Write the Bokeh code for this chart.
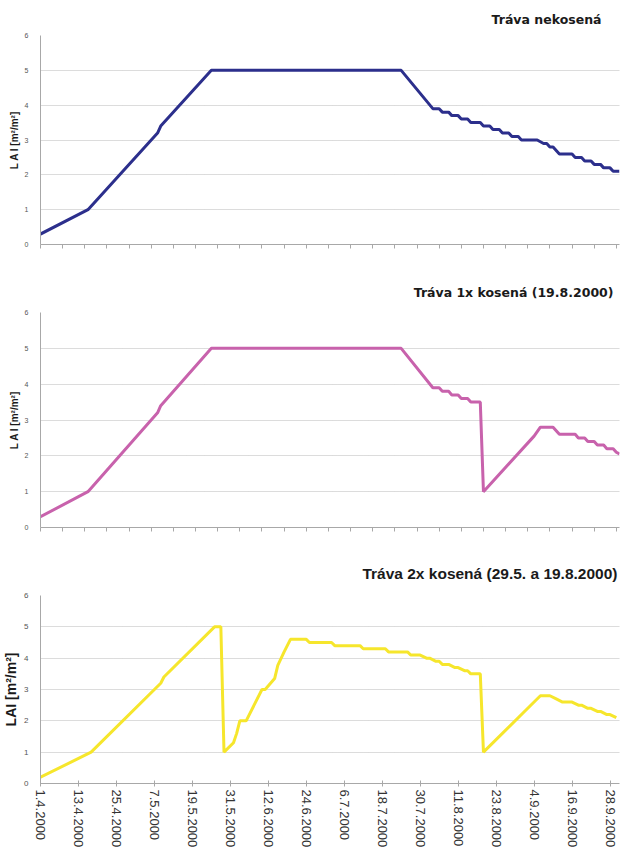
import pandas as pd
from bokeh.plotting import figure
from bokeh.layouts import column
from bokeh.models import FixedTicker, Range1d
from bokeh.embed import file_html
from bokeh.resources import INLINE

START = pd.Timestamp("2000-04-01")
END_DAY = 183

tick_labels = ["1.4.2000", "13.4.2000", "25.4.2000", "7.5.2000", "19.5.2000",
               "31.5.2000", "12.6.2000", "24.6.2000", "6.7.2000", "18.7.2000",
               "30.7.2000", "11.8.2000", "23.8.2000", "4.9.2000", "16.9.2000",
               "28.9.2000"]

titles = ["Tráva nekosená", "Tráva 1x kosená (19.8.2000)",
          "Tráva 2x kosená (29.5. a 19.8.2000)"]

top_day = [0, 15, 37, 38, 54, 114, 124, 126, 127, 129, 130, 132, 133, 135, 136,
           139, 140, 142, 143, 145, 146, 148, 149, 151, 152, 157, 159, 160, 161,
           162, 164, 168, 169, 171, 172, 174, 175, 177, 178, 180, 181, 183]
top_lai = [0.3, 1.0, 3.2, 3.4, 5.0, 5.0, 3.9, 3.9, 3.8, 3.8, 3.7, 3.7, 3.6, 3.6,
           3.5, 3.5, 3.4, 3.4, 3.3, 3.3, 3.2, 3.2, 3.1, 3.1, 3.0, 3.0, 2.9, 2.9,
           2.8, 2.8, 2.6, 2.6, 2.5, 2.5, 2.4, 2.4, 2.3, 2.3, 2.2, 2.2, 2.1, 2.1]

mid_day = [0, 15, 37, 38, 54, 114, 124, 126, 127, 129, 130, 132, 133, 135, 136,
           139, 140, 156, 158, 162, 163, 164, 169, 170, 172, 173, 175, 176, 178,
           179, 181, 182, 183]
mid_lai = [0.3, 1.0, 3.2, 3.4, 5.0, 5.0, 3.9, 3.9, 3.8, 3.8, 3.7, 3.7, 3.6, 3.6,
           3.5, 3.5, 1.0, 2.55, 2.8, 2.8, 2.7, 2.6, 2.6, 2.5, 2.5, 2.4, 2.4, 2.3,
           2.3, 2.2, 2.2, 2.1, 2.05]

bot_day = [0, 16, 38, 39, 55, 57, 58, 61, 62, 63, 65, 70, 71, 74, 75, 77, 79, 84,
           85, 92, 93, 101, 102, 109, 110, 116, 117, 120, 122, 123, 125, 126, 127,
           129, 131, 132, 134, 135, 136, 139, 140, 156, 158, 161, 163, 165, 168,
           170, 171, 173, 174, 176, 177, 179, 180, 182]
bot_lai = [0.2, 1.0, 3.2, 3.4, 5.0, 5.0, 1.0, 1.3, 1.6, 2.0, 2.0, 3.0, 3.0, 3.35,
           3.77, 4.2, 4.6, 4.6, 4.5, 4.5, 4.4, 4.4, 4.3, 4.3, 4.2, 4.2, 4.1, 4.1,
           4.0, 4.0, 3.9, 3.9, 3.8, 3.8, 3.7, 3.7, 3.6, 3.6, 3.5, 3.5, 1.0, 2.6,
           2.8, 2.8, 2.7, 2.6, 2.6, 2.5, 2.5, 2.4, 2.4, 2.3, 2.3, 2.2, 2.2, 2.1]

colors = ["#2c2f8c", "#c862ac", "#f6e62c"]
FONT = "Liberation Sans"

tick_days = [int((pd.to_datetime(t, format="%d.%m.%Y") - START).days) for t in tick_labels]
week_days = list(range(0, END_DAY + 1, 7))


def base_fig(height, top, bottom, right, title, tfont, tsize, tstand, toff,
             ylabel, ysize, ytick_size):
    p = figure(width=630, height=height, x_range=Range1d(0, END_DAY),
               y_range=Range1d(0, 6), output_backend="svg", toolbar_location=None,
               min_border_left=39, min_border_right=right, min_border_top=top,
               min_border_bottom=bottom, background_fill_color="white",
               border_fill_color="white")
    p.outline_line_color = None
    p.title.text = title
    p.title.align = "right"
    p.title.text_font = tfont
    p.title.text_font_style = "bold"
    p.title.text_font_size = tsize
    p.title.text_color = "#1a1a1a"
    p.title.standoff = tstand
    p.title.offset = toff
    p.xgrid.grid_line_color = None
    p.ygrid.grid_line_color = "#b8b8b8"
    p.ygrid.grid_line_dash = "1 1"
    p.yaxis.ticker = FixedTicker(ticks=[0, 1, 2, 3, 4, 5, 6])
    p.yaxis.minor_tick_line_color = None
    p.yaxis.major_tick_line_color = None
    p.yaxis.axis_line_color = "#a8a8a8"
    p.yaxis.major_label_text_font = FONT
    p.yaxis.major_label_text_font_size = ytick_size
    p.yaxis.major_label_text_color = "#555555"
    p.yaxis.major_label_standoff = 6
    p.yaxis.axis_label = ylabel
    p.yaxis.axis_label_text_font = FONT
    p.yaxis.axis_label_text_font_style = "bold"
    p.yaxis.axis_label_text_font_size = ysize
    p.yaxis.axis_label_text_color = "#1a1a1a"
    p.yaxis.axis_label_standoff = 2
    p.xaxis.axis_line_color = "#a8a8a8"
    p.xaxis.major_tick_line_color = "#a8a8a8"
    p.xaxis.minor_tick_line_color = None
    return p


p1 = base_fig(268, 34, 24, 0, titles[0], "DejaVu Sans", "12.5px", 18, 18,
              "L A I [m²/m²]", "10px", "7px")
p2 = base_fig(277, 44, 18, 0, titles[1], "DejaVu Sans", "12.5px", 25, 6,
              "L A I [m²/m²]", "10px", "7px")
p3 = base_fig(313, 50, 75, 11, titles[2], FONT, "15.5px", 27, 2,
              "LAI [m²/m²]", "14px", "8px")

for p in (p1, p2):
    p.xaxis.ticker = FixedTicker(ticks=week_days)
    p.xaxis.major_label_overrides = {d: "" for d in week_days}
    p.xaxis.major_tick_in = 0
    p.xaxis.major_tick_out = 4

p3.xaxis.ticker = FixedTicker(ticks=tick_days)
p3.xaxis.major_label_overrides = {d: t for d, t in zip(tick_days, tick_labels)}
p3.xaxis.major_label_orientation = "vertical"
p3.xaxis.major_label_text_font = FONT
p3.xaxis.major_label_text_font_size = "13px"
p3.xaxis.major_label_text_color = "#333333"
p3.xaxis.major_tick_in = 3
p3.xaxis.major_tick_out = 3
p3.xaxis.major_label_standoff = 3

p1.line(top_day, top_lai, line_color=colors[0], line_width=3)
p2.line(mid_day, mid_lai, line_color=colors[1], line_width=3)
p3.line(bot_day, bot_lai, line_color=colors[2], line_width=3)

layout = column(p1, p2, p3, spacing=0)
open("out.html", "w").write(file_html(layout, INLINE))
